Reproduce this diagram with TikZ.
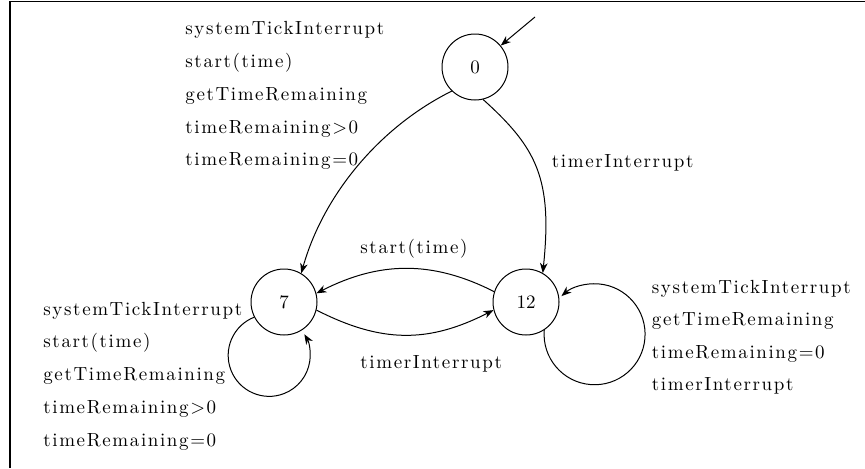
\documentclass[tikz,border=0pt]{standalone}
\usepackage{fontspec}
\newfontfamily\lblfont{lmroman10-regular}[Extension=.otf, LetterSpace=8.5]
\newfontfamily\numfont{lmroman10-regular}[Extension=.otf]
\usetikzlibrary{arrows.meta}
\begin{document}
\begin{tikzpicture}[x=0.5pt,y=0.5pt,
  state/.style={circle,draw,line width=0.5pt,minimum size=33pt,inner sep=0pt,font=\numfont\fontsize{9.5}{11}\selectfont},
  lbl/.style={anchor=base west,inner sep=0pt,font=\lblfont\fontsize{9.5}{11}\selectfont},
  conn/.style={line width=0.5pt,-{Stealth[length=5pt,width=3.8pt,inset=1.5pt]}},
  framerule/.style={line width=0.7pt}]
\useasboundingbox (0,0) rectangle (865,468);
\draw[framerule] (10,0) -- (10,466.3) -- (865,466.3);

% states
\node[state] (n0) at (475,401) {0};
\node[state] (n7) at (284,166) {7};
\node[state] (n12) at (526,166) {12};
\coordinate (init) at (535,451);

% connectors
\draw[conn] (init) -- (n0);
\draw[conn] (n0.226) .. controls +(206.4:81) and +(74.3:81) .. (n7.59.5);
\draw[conn] (n0.-76) .. controls +(-42:72) and +(84:95) .. (n12.60);
\draw[conn] (n12.162.5) .. controls +(153:70) and +(27:70) .. (n7.15);
\draw[conn] (n7.-14) .. controls +(-27:73) and +(207:73) .. (n12.194);
\draw[conn] (n7.207) arc[start angle=111.5, end angle=391, radius=20.5pt];
\draw[conn] (n12.-57) arc[start angle=175.3, end angle=491, radius=25.25pt];

% labels: 0 -> 7
\node[lbl] (a1) at (185,433.5) {systemTickInterrupt};
\node[lbl] (a2) at (185,401) {start(time)};
\node[lbl] (a3) at (185,368) {getTimeRemaining};
\node[lbl] (a4) at (185,335) {timeRemaining>0};
\node[lbl] (a5) at (185,302.3) {timeRemaining=0};
% 0 -> 12
\node[lbl] (b1) at (551.5,300.7) {timerInterrupt};
% 12 -> 7
\node[lbl] (c1) at (360,214.7) {start(time)};
% 7 -> 12
\node[lbl] (d1) at (360,99.7) {timerInterrupt};
% loop at 7
\node[lbl] (e1) at (43,152.7) {systemTickInterrupt};
\node[lbl] (e2) at (43,120.3) {start(time)};
\node[lbl] (e3) at (43,88) {getTimeRemaining};
\node[lbl] (e4) at (43,54.7) {timeRemaining>0};
\node[lbl] (e5) at (43,22) {timeRemaining=0};
% loop at 12
\node[lbl] (f1) at (651.5,175) {systemTickInterrupt};
\node[lbl] (f2) at (651.5,142.5) {getTimeRemaining};
\node[lbl] (f3) at (651.5,110) {timeRemaining=0};
\node[lbl] (f4) at (651.5,77.5) {timerInterrupt};
\end{tikzpicture}
\end{document}
